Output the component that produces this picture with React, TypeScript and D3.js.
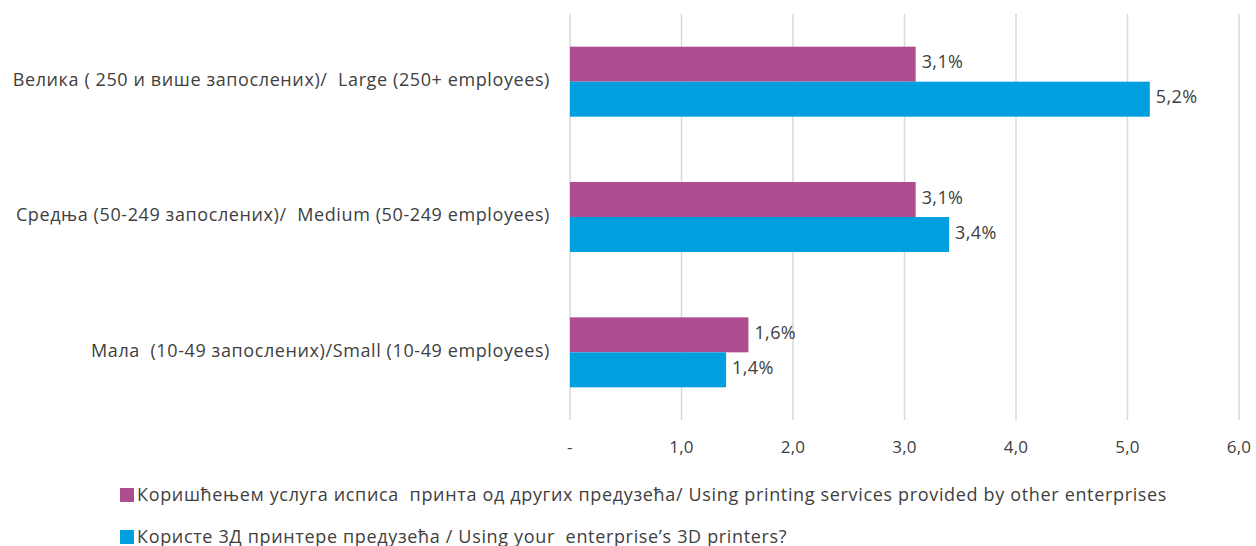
import React from "react";
import * as d3 from "d3";

const categories = [
  "Велика ( 250 и више запослених)/  Large (250+ employees)",
  "Средња (50-249 запослених)/  Medium (50-249 employees)",
  "Мала  (10-49 запослених)/Small (10-49 employees)",
];
const seriesNames = [
  "Коришћењем услуга исписа  принта од других предузећа/ Using printing services provided by other enterprises",
  "Користе 3Д принтере предузећа / Using your  enterprise’s 3D printers?",
];
const servicesValues = [3.1, 3.1, 1.6];
const ownPrinterValues = [5.2, 3.4, 1.4];
const tickValues = [0, 1, 2, 3, 4, 5, 6];
const tickLabels = ["-", "1,0", "2,0", "3,0", "4,0", "5,0", "6,0"];
const colors = ["#AE4D8F", "#00A0E0"];

const W = 1256;
const H = 546;
const FONT = "'Open Sans', 'Noto Sans', sans-serif";

export default function App() {
  const x = d3.scaleLinear().domain([0, 6]).range([570, 1239]);
  const y = d3.scaleBand().domain(categories).range([14, 420]).paddingInner(0).paddingOuter(0);
  const inner = d3.scaleBand().domain(["0", "1"]).range([0, 70]);
  const series = [servicesValues, ownPrinterValues];
  const fmt = (v: number) => v.toFixed(1).replace(".", ",") + "%";

  return (
    <svg width={W} height={H} style={{ position: "absolute", left: 0, top: 0, background: "#fff" }}>
      {tickValues.map((t) => (
        <line key={"g" + t} x1={x(t)} x2={x(t)} y1={14} y2={420} stroke="#d9d9d9" strokeWidth={1.5} />
      ))}
      {categories.map((c, i) => {
        const cy = (y(c) as number) + y.bandwidth() / 2;
        const top = cy - 35;
        return (
          <g key={c}>
            {series.map((vals, s) => {
              const by = top + (inner(String(s)) as number);
              return (
                <g key={s}>
                  <rect x={x(0)} y={by} width={x(vals[i]) - x(0)} height={inner.bandwidth()} fill={colors[s]} />
                  <text
                    x={x(vals[i]) + 6}
                    y={by + inner.bandwidth() / 2 - 2}
                    dy="0.35em"
                    fontFamily={FONT}
                    fontSize={18}
                    fill="#404040"
                    letterSpacing={0.4}
                  >
                    {fmt(vals[i])}
                  </text>
                </g>
              );
            })}
            <text
              x={550}
              y={cy - 2}
              dy="0.35em"
              textAnchor="end"
              fontFamily={FONT}
              fontSize={18}
              fill="#404040"
              letterSpacing={0.6}
              style={{ whiteSpace: "pre" }}
            >
              {c}
            </text>
          </g>
        );
      })}
      {tickValues.map((t, i) => (
        <text key={"t" + t} x={x(t)} y={447} dy="0.35em" textAnchor="middle" fontFamily={FONT} fontSize={17} fill="#404040" letterSpacing={0.3}>
          {tickLabels[i]}
        </text>
      ))}
      {seriesNames.map((n, s) => (
        <g key={n} transform={`translate(120, ${495 + s * 42})`}>
          <rect x={0} y={-7} width={14} height={14} fill={colors[s]} />
          <text
            x={17}
            y={0}
            dy="0.35em"
            fontFamily={FONT}
            fontSize={18}
            fill="#404040"
            letterSpacing={0.66}
            style={{ whiteSpace: "pre" }}
          >
            {n}
          </text>
        </g>
      ))}
    </svg>
  );
}
